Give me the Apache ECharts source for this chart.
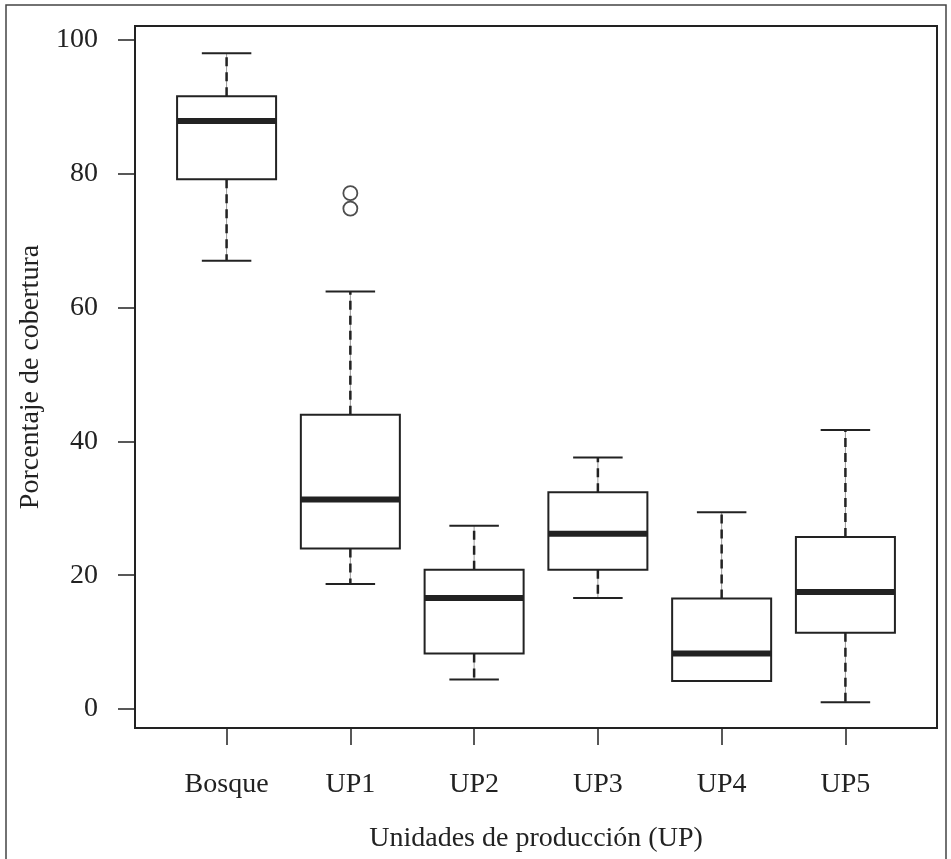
<!DOCTYPE html>
<html>
<head>
<meta charset="utf-8">
<script src="https://cdn.jsdelivr.net/npm/echarts@6/dist/echarts.min.js"></script>
<style>
html,body{margin:0;padding:0;background:#fff;}
#chart{width:951px;height:859px;}
</style>
</head>
<body>
<div id="chart"></div>
<script>
const categories = ['Bosque', 'UP1', 'UP2', 'UP3', 'UP4', 'UP5'];
const whiskerLow  = [67.0, 18.7, 4.4, 16.6, 4.2, 1.0];
const q1          = [79.2, 24.0, 8.3, 20.8, 4.2, 11.4];
const median      = [87.9, 31.3, 16.6, 26.2, 8.3, 17.5];
const q3          = [91.6, 44.0, 20.8, 32.4, 16.5, 25.7];
const whiskerHigh = [98.0, 62.4, 27.4, 37.6, 29.4, 41.7];
const outlierCategory = ['UP1', 'UP1'];
const outlierValue = [77.1, 74.8];
const yTicks = [0, 20, 40, 60, 80, 100];
const xTitle = 'Unidades de producción (UP)';
const yTitle = 'Porcentaje de cobertura';

const positions = categories.map((c, i) => i + 1);
const boxData = categories.map((c, i) => [i + 1, whiskerLow[i], q1[i], median[i], q3[i], whiskerHigh[i]]);
const outlierData = outlierCategory.map((c, i) => [categories.indexOf(c) + 1, outlierValue[i]]);

const FONT = 'Liberation Serif';
const INK = '#222';

function renderItem(params, api) {
  const x = api.value(0);
  const lo = api.coord([x, api.value(1)]);
  const b1 = api.coord([x, api.value(2)]);
  const md = api.coord([x, api.value(3)]);
  const b3 = api.coord([x, api.value(4)]);
  const hi = api.coord([x, api.value(5)]);
  const unit = api.size([1, 0])[0];
  const hw = unit * 0.4;
  const cw = unit * 0.2;
  const cx = md[0];
  const children = [];
  function whisker(yFrom, yTo) {
    if (Math.abs(yTo - yFrom) < 0.5) return;
    children.push({type: 'line', shape: {x1: cx, y1: yFrom, x2: cx, y2: yTo}, style: {stroke: '#999', lineWidth: 1}});
    children.push({type: 'line', shape: {x1: cx, y1: yFrom, x2: cx, y2: yTo}, style: {stroke: INK, lineWidth: 2.5, lineDash: [9, 6]}});
  }
  whisker(b3[1], hi[1]);
  whisker(b1[1], lo[1]);
  children.push({type: 'line', shape: {x1: cx - cw, y1: hi[1], x2: cx + cw, y2: hi[1]}, style: {stroke: INK, lineWidth: 2}});
  children.push({type: 'line', shape: {x1: cx - cw, y1: lo[1], x2: cx + cw, y2: lo[1]}, style: {stroke: INK, lineWidth: 2}});
  children.push({type: 'rect', shape: {x: cx - hw, y: b3[1], width: 2 * hw, height: b1[1] - b3[1]}, style: {fill: '#fff', stroke: INK, lineWidth: 2}});
  children.push({type: 'line', shape: {x1: cx - hw, y1: md[1], x2: cx + hw, y2: md[1]}, style: {stroke: INK, lineWidth: 6}});
  return {type: 'group', children: children};
}

const chart = echarts.init(document.getElementById('chart'), null, {renderer: 'canvas'});
chart.setOption({
  animation: false,
  backgroundColor: '#fff',
  textStyle: {fontFamily: FONT, color: INK},
  graphic: [{
    type: 'rect', silent: true, z: -10,
    shape: {x: 6, y: 5, width: 940, height: 900},
    style: {fill: 'none', stroke: '#444', lineWidth: 1.5}
  }],
  grid: {
    left: 135, right: 14, top: 26, bottom: 131,
    show: true, borderColor: INK, borderWidth: 2, backgroundColor: 'transparent'
  },
  xAxis: {
    type: 'value', min: 0.26, max: 6.74,
    name: xTitle, nameLocation: 'middle', nameGap: 97,
    nameTextStyle: {fontFamily: FONT, fontSize: 28, color: INK},
    axisLine: {show: false, onZero: false},
    splitLine: {show: false},
    axisTick: {show: true, length: 17, customValues: positions, lineStyle: {color: INK, width: 1.5}},
    axisLabel: {
      customValues: positions, margin: 43, fontFamily: FONT, fontSize: 28, color: INK,
      formatter: v => categories[Math.round(v) - 1] || ''
    }
  },
  yAxis: {
    type: 'value', min: -2.84, max: 102.09,
    name: yTitle, nameLocation: 'middle', nameGap: 89,
    nameTextStyle: {fontFamily: FONT, fontSize: 28, color: INK},
    axisLine: {show: false, onZero: false},
    splitLine: {show: false},
    axisTick: {show: true, length: 17, customValues: yTicks, lineStyle: {color: INK, width: 1.5}},
    axisLabel: {customValues: yTicks, margin: 37, fontFamily: FONT, fontSize: 28, color: INK}
  },
  series: [
    {type: 'custom', renderItem: renderItem, data: boxData, encode: {x: 0, y: [1, 2, 3, 4, 5]}, z: 2},
    {type: 'scatter', data: outlierData, symbol: 'circle', symbolSize: 14,
     itemStyle: {color: '#fff', borderColor: INK, borderWidth: 1.8}, z: 3}
  ]
});
</script>
</body>
</html>
